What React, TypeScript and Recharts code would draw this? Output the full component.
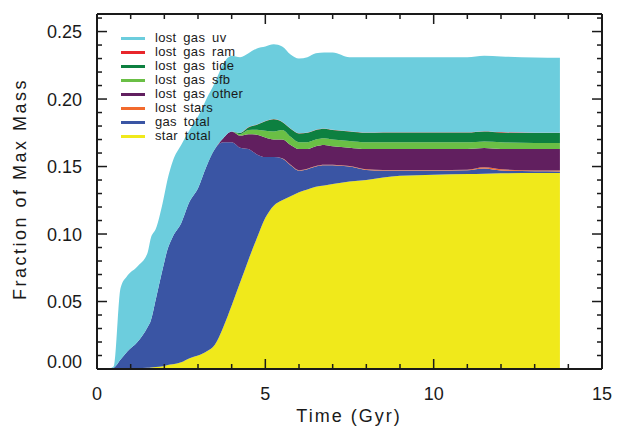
import { Area, AreaChart, Legend, XAxis, YAxis } from 'recharts';

// Time in Gyr
const time = [0, 0.3, 0.5, 0.7, 0.9, 1.2, 1.5, 1.6, 1.75, 1.95, 2.1, 2.25, 2.5, 2.75, 3.0, 3.25, 3.5, 3.75, 4.0, 4.25, 4.5, 4.75, 5.0, 5.25, 5.5, 5.75, 6.0, 6.25, 6.5, 6.75, 7.0, 7.5, 8.0, 8.5, 9, 10, 11, 11.5, 12, 13, 13.75];

// layer thickness (fraction of max mass), bottom to top
const starTotal = [0, 0, 0, 0, 0, 0.0005, 0.001, 0.0012, 0.0015, 0.002, 0.003, 0.0035, 0.005, 0.008, 0.01, 0.013, 0.018, 0.031, 0.047, 0.064, 0.081, 0.097, 0.112, 0.121, 0.125, 0.128, 0.131, 0.133, 0.135, 0.136, 0.137, 0.139, 0.14, 0.1418, 0.1432, 0.144, 0.1445, 0.1447, 0.145, 0.1452, 0.1452];
const gasTotal = [0, 0, 0.001, 0.007, 0.013, 0.0195, 0.03, 0.0348, 0.0505, 0.072, 0.086, 0.0945, 0.103, 0.116, 0.124, 0.137, 0.145, 0.137, 0.121, 0.1, 0.082, 0.062, 0.045, 0.036, 0.031, 0.023, 0.016, 0.015, 0.015, 0.015, 0.014, 0.011, 0.0075, 0.0052, 0.0038, 0.003, 0.0027, 0.0038, 0.002, 0.0013, 0.0012];
const lostStars = [0, 0, 0, 0, 0, 0, 0, 0, 0, 0, 0, 0, 0, 0, 0, 0, 0, 0, 0, 0, 0, 0, 0, 0, 0.0002, 0.0003, 0.0003, 0.0003, 0.0003, 0.0003, 0.0003, 0.0003, 0.0004, 0.0005, 0.0005, 0.0005, 0.0005, 0.001, 0.001, 0.0006, 0.0006];
const lostGasOther = [0, 0, 0, 0, 0, 0, 0, 0, 0, 0, 0, 0, 0, 0, 0, 0, 0, 0.003, 0.008, 0.009, 0.011, 0.0146, 0.0145, 0.013, 0.0138, 0.0147, 0.0157, 0.0147, 0.0147, 0.0147, 0.0137, 0.0137, 0.0151, 0.0155, 0.0155, 0.0155, 0.0153, 0.0142, 0.015, 0.0159, 0.016];
const lostGasSfb = [0, 0, 0, 0, 0, 0, 0, 0, 0, 0, 0, 0, 0, 0, 0, 0, 0, 0, 0, 0.001, 0.003, 0.0037, 0.005, 0.006, 0.007, 0.006, 0.005, 0.005, 0.005, 0.005, 0.005, 0.005, 0.005, 0.005, 0.005, 0.005, 0.005, 0.0049, 0.005, 0.0045, 0.0044];
const lostGasTide = [0, 0, 0, 0, 0, 0, 0, 0, 0, 0, 0, 0, 0, 0, 0, 0, 0, 0, 0, 0.001, 0.002, 0.0037, 0.007, 0.009, 0.006, 0.006, 0.0065, 0.007, 0.007, 0.007, 0.007, 0.007, 0.007, 0.0072, 0.0072, 0.0072, 0.0072, 0.0074, 0.0073, 0.0073, 0.0074];
const lostGasRam = [0, 0, 0, 0, 0, 0, 0, 0, 0, 0, 0, 0, 0, 0, 0, 0, 0, 0, 0, 0, 0.0002, 0.0002, 0.0002, 0.0002, 0.0002, 0.0002, 0.0002, 0.0002, 0.0002, 0.0002, 0.0002, 0.0002, 0.0002, 0.0002, 0.0002, 0.0002, 0.0002, 0.0002, 0.0002, 0.0002, 0.0002];
const lostGasUv = [0, 0, 0.001, 0.053, 0.056, 0.056, 0.055, 0.061, 0.052, 0.049, 0.052, 0.056, 0.058, 0.053, 0.053, 0.05, 0.049, 0.055, 0.056, 0.056, 0.0548, 0.0563, 0.0553, 0.0553, 0.0558, 0.0548, 0.0553, 0.0558, 0.0568, 0.0563, 0.0573, 0.0548, 0.0558, 0.0556, 0.0556, 0.0556, 0.0556, 0.0558, 0.056, 0.0558, 0.0555];

const xTicks = [0, 1, 2, 3, 4, 5, 6, 7, 8, 9, 10, 11, 12, 13, 14, 15];
const yTicks = [0, 0.01, 0.02, 0.03, 0.04, 0.05, 0.06, 0.07, 0.08, 0.09, 0.1, 0.11, 0.12, 0.13, 0.14, 0.15, 0.16, 0.17, 0.18, 0.19, 0.2, 0.21, 0.22, 0.23, 0.24, 0.25, 0.26];

const series = [
  { key: 'starTotal', name: 'star total', color: '#F0E91B', values: starTotal },
  { key: 'gasTotal', name: 'gas total', color: '#3A55A4', values: gasTotal },
  { key: 'lostStars', name: 'lost stars', color: '#F26A2D', values: lostStars },
  { key: 'lostGasOther', name: 'lost gas other', color: '#611F5F', values: lostGasOther },
  { key: 'lostGasSfb', name: 'lost gas sfb', color: '#6ABF45', values: lostGasSfb },
  { key: 'lostGasTide', name: 'lost gas tide', color: '#0D8040', values: lostGasTide },
  { key: 'lostGasRam', name: 'lost gas ram', color: '#E8262B', values: lostGasRam },
  { key: 'lostGasUv', name: 'lost gas uv', color: '#6CCDDD', values: lostGasUv },
];

const data = time.map((t, i) => {
  const row: Record<string, number> = { t };
  series.forEach((s) => {
    row[s.key] = s.values[i];
  });
  return row;
});

const INK = '#1a1a1a';
const FONT = '"Liberation Sans", Arial, sans-serif';

const isMajorX = (v: number) => v % 5 === 0;
const isMajorY = (v: number) => Math.round(v * 100) % 5 === 0;

function BottomTick({ x, y, payload }: any) {
  const v = payload.value;
  const major = isMajorX(v);
  return (
    <g>
      <line x1={x} x2={x} y1={y} y2={y - (major ? 10 : 5)} stroke={INK} strokeWidth={1.5} />
      {major && (
        <text x={x} y={y + 31} textAnchor="middle" fontSize={18} fontFamily={FONT} fill={INK}>
          {v}
        </text>
      )}
    </g>
  );
}

function TopTick({ x, y, payload }: any) {
  const major = isMajorX(payload.value);
  return <line x1={x} x2={x} y1={y} y2={y + (major ? 10 : 5)} stroke={INK} strokeWidth={1.5} />;
}

function LeftTick({ x, y, payload }: any) {
  const v = payload.value;
  const major = isMajorY(v);
  return (
    <g>
      <line x1={x} x2={x + (major ? 10 : 5)} y1={y} y2={y} stroke={INK} strokeWidth={1.5} />
      {major && (
        <text x={x - 15} y={v === 0 ? y - 1.5 : y + 6.5} textAnchor="end" fontSize={18} fontFamily={FONT} fill={INK}>
          {v.toFixed(2)}
        </text>
      )}
    </g>
  );
}

function RightTick({ x, y, payload }: any) {
  const major = isMajorY(payload.value);
  return <line x1={x} x2={x - (major ? 10 : 5)} y1={y} y2={y} stroke={INK} strokeWidth={1.5} />;
}

function LegendBox() {
  return (
    <div style={{ fontFamily: FONT, fontSize: 13, letterSpacing: 0.3, wordSpacing: 3, color: INK }}>
      {[...series].reverse().map((s) => (
        <div key={s.key} style={{ display: 'flex', alignItems: 'center', height: 14.06 }}>
          <span style={{ display: 'inline-block', width: 24, height: 3, background: s.color, marginRight: 10 }} />
          <span style={{ lineHeight: '14px' }}>{s.name}</span>
        </div>
      ))}
    </div>
  );
}

const axisLine = { stroke: INK, strokeWidth: 2 };

export default function App() {
  return (
    <div style={{ position: 'absolute', left: 0, top: 0, width: 627, height: 430, background: '#fff' }}>
      <AreaChart width={627} height={430} data={data} margin={{ top: 13, right: 24, bottom: 21, left: 37 }}>
        {series.map((s) => (
          <Area
            key={s.key}
            type="monotone"
            dataKey={s.key}
            name={s.name}
            stackId="mass"
            stroke="none"
            fill={s.color}
            fillOpacity={1}
            isAnimationActive={false}
          />
        ))}
        <XAxis
          dataKey="t"
          type="number"
          domain={[0, 15]}
          ticks={xTicks}
          interval={0}
          allowDataOverflow
          height={40}
          tickSize={0}
          tickMargin={0}
          tickLine={false}
          axisLine={axisLine}
          tick={<BottomTick />}
        />
        <XAxis
          xAxisId="top"
          orientation="top"
          dataKey="t"
          type="number"
          domain={[0, 15]}
          ticks={xTicks}
          interval={0}
          allowDataOverflow
          height={1}
          tickSize={0}
          tickMargin={0}
          tickLine={false}
          axisLine={axisLine}
          tick={<TopTick />}
        />
        <YAxis
          type="number"
          domain={[0, 0.263]}
          ticks={yTicks}
          interval={0}
          allowDataOverflow
          width={60}
          tickSize={0}
          tickMargin={0}
          tickLine={false}
          axisLine={axisLine}
          tick={<LeftTick />}
        />
        <YAxis
          yAxisId="right"
          orientation="right"
          type="number"
          domain={[0, 0.263]}
          ticks={yTicks}
          interval={0}
          allowDataOverflow
          width={1}
          tickSize={0}
          tickMargin={0}
          tickLine={false}
          axisLine={axisLine}
          tick={<RightTick />}
        />
        <Legend
          layout="vertical"
          align="center"
          verticalAlign="middle"
          content={<LegendBox />}
          wrapperStyle={{ left: 121, top: 31, width: 170, height: 115 }}
        />
      </AreaChart>
      <svg width={627} height={430} style={{ position: 'absolute', left: 0, top: 0, pointerEvents: 'none' }}>
        <text x={349} y={422} textAnchor="middle" fontSize={18} letterSpacing={2} fontFamily={FONT} fill={INK}>
          Time (Gyr)
        </text>
        <text
          x={26}
          y={189}
          transform="rotate(-90 26 189)"
          textAnchor="middle"
          fontSize={18}
          letterSpacing={2.5}
          fontFamily={FONT}
          fill={INK}
        >
          Fraction of Max Mass
        </text>
      </svg>
    </div>
  );
}
